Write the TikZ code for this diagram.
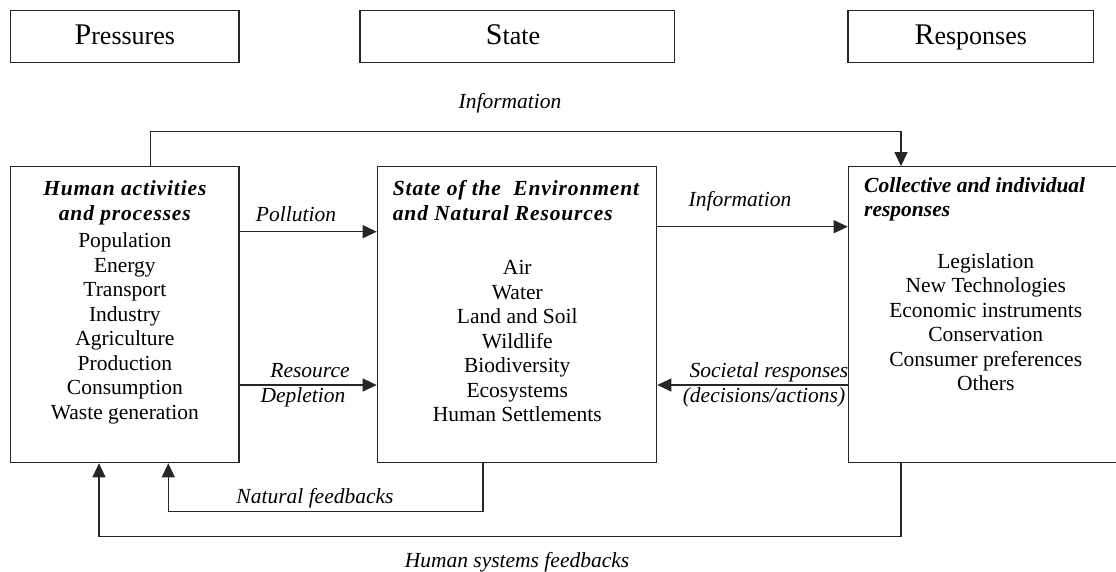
\documentclass[tikz,border=0pt]{standalone}
\usepackage{fontspec}
\setmainfont{Liberation Serif}
\usetikzlibrary{arrows.meta}
\begin{document}
\begin{tikzpicture}[x=1pt,y=-1pt,
  box/.style={draw=black!85,line width=1.2pt,rectangle,inner sep=0pt},
  txt/.style={inner sep=0pt,anchor=base,font=\fontsize{21.5pt}{24.5pt}\selectfont},
  hd/.style={txt,font=\fontsize{21.5pt}{24.5pt}\selectfont\bfseries\itshape},
  hdw/.style={txt,font=\fontsize{21.5pt}{24.5pt}\selectfont\bfseries\itshape\addfontfeature{LetterSpace=4}},
  lbl/.style={txt,font=\fontsize{21.5pt}{24.5pt}\selectfont\itshape},
  title/.style={box,minimum height=52.4pt},
  ttxt/.style={inner sep=0pt,anchor=base,font=\fontsize{26pt}{28pt}\selectfont},
  arr/.style={draw=black!85,line width=1.2pt,-{Triangle[length=14pt,width=13pt]}},
  ln/.style={draw=black!85,line width=1.2pt}]
\clip (0,0) rectangle (1116,572);

% DPSIR column headers
\newcommand{\bigfirst}[2]{{\fontsize{30pt}{30pt}\selectfont #1}#2}
\node[title,minimum width=228.3pt] (pres) at (124.85,36.5) {};
\node[title,minimum width=314.6pt] (stt)  at (517.3,36.5)  {};
\node[title,minimum width=245.5pt] (rsp)  at (970.75,36.5) {};
\node[ttxt] (pres-t) at (124.85,44.5) {\bigfirst{P}{ressures}};
\node[ttxt] (stt-t)  at (513,44.5)    {\bigfirst{S}{tate}};
\node[ttxt] (rsp-t)  at (970.75,44.5) {\bigfirst{R}{esponses}};

% main boxes
\node[box,minimum width=228.3pt,minimum height=296pt] (hab)  at (124.85,314.7) {};
\node[box,minimum width=279.4pt,minimum height=296pt] (sta)  at (517,314.7) {};
\node[box,minimum width=291.7pt,minimum height=296pt] (resp) at (994.15,314.7) {};

% human activities
\node[hdw] (h1) at (124.85,196) {Human activities};
\node[hdw] (h2) at (124.85,221) {and processes};
\foreach \t [count=\i] in {Population,Energy,Transport,Industry,Agriculture,Production,Consumption,Waste generation}
  \node[txt] (hl\i) at (124.85,{247.5+24.5*(\i-1)}) {\t};

% state of the environment
\node[hdw,anchor=base west] (s1) at (392.7,196) {State of the \ Environment};
\node[hdw,anchor=base west] (s2) at (392.7,221) {and Natural Resources};
\foreach \t [count=\i] in {Air,Water,Land and Soil,Wildlife,Biodiversity,Ecosystems,Human Settlements}
  \node[txt] (sl\i) at (517.3,{274.5+24.5*(\i-1)}) {\t};

% responses
\node[hd,anchor=base west] (r1) at (864,193) {Collective and individual};
\node[hd,anchor=base west] (r2) at (864,217) {responses};
\foreach \t [count=\i] in {Legislation,New Technologies,Economic instruments,Conservation,Consumer preferences,Others}
  \node[txt] (rl\i) at (985.7,{268+24.5*(\i-1)}) {\t};

% flow labels
\node[lbl] (tinfo) at (510,109) {Information};
\node[lbl] (tpol)  at (296,222) {Pollution};
\node[lbl] (tres)  at (310,377) {Resource};
\node[lbl] (tdep)  at (303,402.5) {Depletion};
\node[lbl] (tinf2) at (740,207) {Information};
\node[lbl] (tsoc)  at (769,377) {Societal responses};
\node[lbl] (tdec)  at (764,402.5) {(decisions/actions)};
\node[lbl] (tnat)  at (315,503) {Natural feedbacks};
\node[lbl] (thum)  at (517,567) {Human systems feedbacks};

% routing points
\coordinate (infoL) at (150.7,131.7);
\coordinate (infoR) at (901,131.7);
\coordinate (pol) at (0,231.7);
\coordinate (dep) at (0,385);
\coordinate (inf) at (0,226.7);
\coordinate (soc) at (0,385);
\coordinate (nfR) at (483,511.7);
\coordinate (nfL) at (168.3,511.7);
\coordinate (hfR) at (901,536.7);
\coordinate (hfL) at (99,536.7);

% connectors
\draw[arr] (hab.north -| infoL) -- (infoL) -- (infoR) -- (resp.north -| infoR);
\draw[arr] (hab.east |- pol) -- (sta.west |- pol);
\draw[arr] (hab.east |- dep) -- (sta.west |- dep);
\draw[arr] (sta.east |- inf) -- (resp.west |- inf);
\draw[arr] (resp.west |- soc) -- (sta.east |- soc);
\draw[arr] (sta.south -| nfR) -- (nfR) -- (nfL) -- (hab.south -| nfL);
\draw[arr] (resp.south -| hfR) -- (hfR) -- (hfL) -- (hab.south -| hfL);
\end{tikzpicture}
\end{document}
